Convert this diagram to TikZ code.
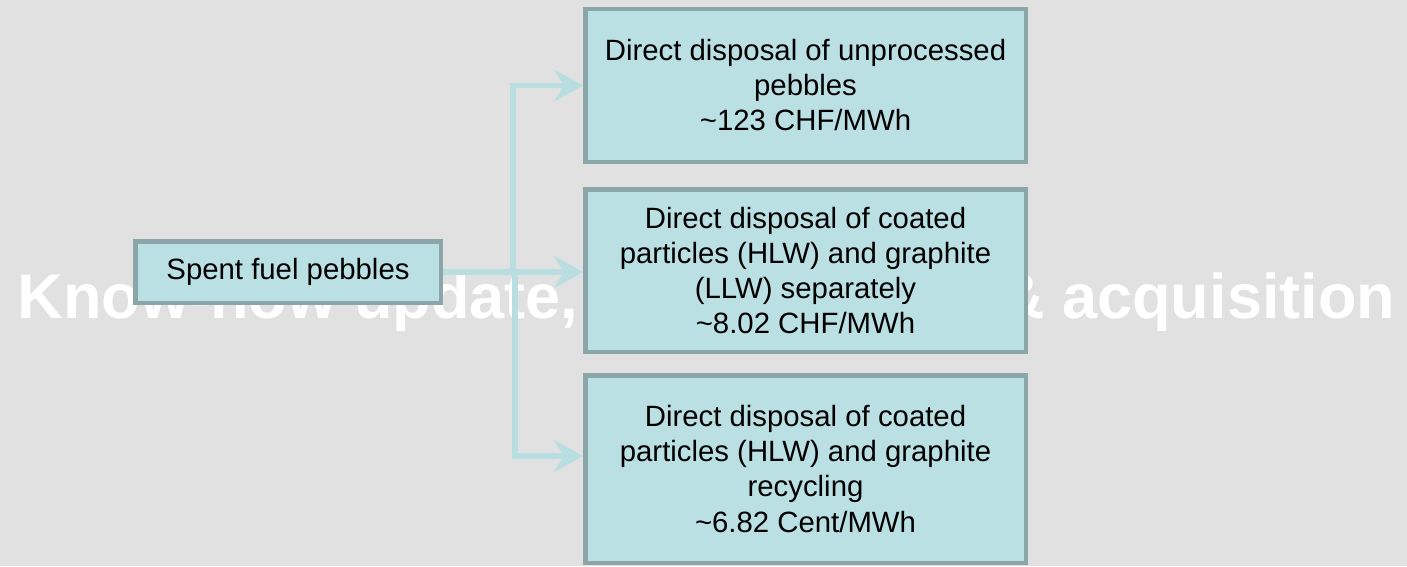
\documentclass[tikz,border=0pt]{standalone}
\usepackage{fontspec}
\setmainfont{Liberation Sans}
\usepackage{xcolor}
\usetikzlibrary{arrows.meta,positioning,calc}
\definecolor{bggray}{HTML}{E1E1E1}
\definecolor{boxfill}{HTML}{BAE0E3}
\definecolor{boxline}{HTML}{8AA6A8}
\definecolor{flowcyan}{HTML}{B8DEE2}

\begin{document}
\begin{tikzpicture}[
    >={Stealth[length=0.29cm, width=0.32cm, inset=0.10cm]},
    option/.style={draw=boxline, line width=1.28pt, fill=boxfill,
        align=center, inner sep=0pt, minimum width=4.405cm,
        font=\fontsize{8.35}{9.96}\selectfont},
    flow/.style={->, draw=flowcyan, line width=1.7pt},
    watermark/.style={font=\fontsize{17.95}{20}\selectfont\bfseries,
        text=white, inner sep=0pt, anchor=base west},
]
\fill[bggray] (0,0) rectangle (14.07,-5.66);
\useasboundingbox (0,0) rectangle (14.07,-5.66);

\node[watermark] (banner) at (0.17,-3.18)
    {Know-how update, maintenance \& acquisition};

\node[option, minimum width=3.055cm, minimum height=0.615cm] (spent) at (2.88,-2.72)
    {Spent fuel pebbles};

\node[option, minimum height=1.525cm] (unproc) at (8.055,-0.855)
    {Direct disposal of unprocessed\\pebbles\\\textasciitilde123 CHF/MWh};
\node[option, minimum height=1.625cm] (separate) at (8.055,-2.705)
    {Direct disposal of coated\\particles (HLW) and graphite\\(LLW) separately\\\textasciitilde8.02 CHF/MWh};
\node[option, minimum height=1.875cm] (recycle) at (8.055,-4.69)
    {Direct disposal of coated\\particles (HLW) and graphite\\recycling\\\textasciitilde6.82 Cent/MWh};

\coordinate (split) at (5.13,-2.72);
\draw[flow] (spent.east) -- (spent.east -| separate.west);
\draw[flow] (split) |- (unproc.west);
\draw[flow] ([xshift=0.02cm]split) |- ([yshift=0.13cm]recycle.west);
\end{tikzpicture}
\end{document}
